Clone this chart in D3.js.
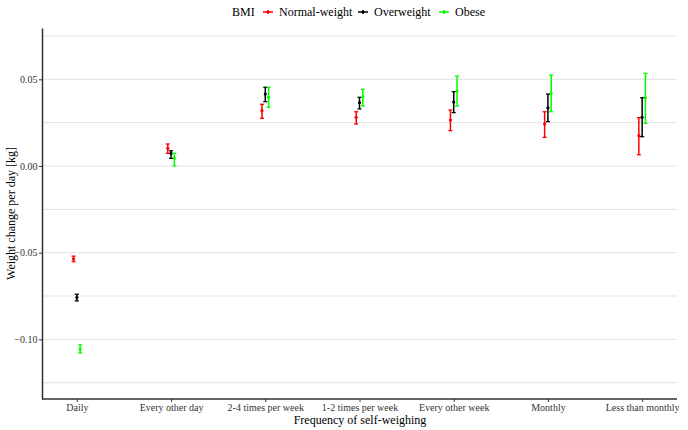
<!DOCTYPE html>
<html>
<head>
<meta charset="utf-8">
<script src="https://cdn.jsdelivr.net/npm/d3@7"></script>
<style>
  body { margin: 0; background: #fff; }
  svg { font-family: "Liberation Serif", "Times New Roman", serif; }
</style>
</head>
<body>
<script>
// Data
const categories = ["Daily", "Every other day", "2-4 times per week", "1-2 times per week",
  "Every other week", "Monthly", "Less than monthly"];
const groups = ["Normal-weight", "Overweight", "Obese"];
const colors = ["#ff0000", "#000000", "#00ff00"];

const normalMid = [-0.0536, 0.0102, 0.0319, 0.0281, 0.0265, 0.0242, 0.0175];
const normalLo  = [-0.0552, 0.0073, 0.0275, 0.0242, 0.0204, 0.0165, 0.0065];
const normalHi  = [-0.0520, 0.0127, 0.0356, 0.0313, 0.0323, 0.0313, 0.0279];

const overMid = [-0.0759, 0.0073, 0.0415, 0.0365, 0.0369, 0.0336, 0.0281];
const overLo  = [-0.0778, 0.0044, 0.0371, 0.0329, 0.0308, 0.0256, 0.0169];
const overHi  = [-0.0740, 0.0088, 0.0454, 0.0396, 0.0429, 0.0415, 0.0394];

const obeseMid = [-0.1055, 0.0044, 0.0396, 0.0400, 0.0433, 0.0419, 0.0394];
const obeseLo  = [-0.1078, 0.0000, 0.0339, 0.0346, 0.0346, 0.0313, 0.0246];
const obeseHi  = [-0.1032, 0.0073, 0.0454, 0.0442, 0.0519, 0.0525, 0.0535];

const yTicks = [0.05, 0.00, -0.05, -0.10];
const yMinor = [0.075, 0.025, -0.025, -0.075, -0.125];

const series = [
  { mid: normalMid, lo: normalLo, hi: normalHi },
  { mid: overMid, lo: overLo, hi: overHi },
  { mid: obeseMid, lo: obeseLo, hi: obeseHi }
];
const rows = [];
series.forEach((s, gi) => {
  categories.forEach((c, ci) => {
    rows.push({ cat: c, g: gi, mid: s.mid[ci], lo: s.lo[ci], hi: s.hi[ci] });
  });
});

const w = 688, h = 430;
const padL = 42, padR = 677, padT = 28, padB = 399;

const svg = d3.select("body").append("svg")
  .attr("width", w).attr("height", h);

const x = d3.scalePoint().domain(categories).range([padL, padR]).padding(0.37);
const y = d3.scaleLinear().domain([-0.1344, 0.0796]).range([padB, padT]);
const dodge = d3.scalePoint().domain(groups.map((d, i) => i)).range([-3.3, 3.3]);

// gridlines
svg.append("g").selectAll("line")
  .data(yMinor.concat(yTicks))
  .join("line")
  .attr("x1", padL).attr("x2", padR)
  .attr("y1", d => y(d)).attr("y2", d => y(d))
  .attr("stroke", "#e3e3e3")
  .attr("stroke-width", 1);

// error bars
const marks = svg.append("g").selectAll("g")
  .data(rows)
  .join("g")
  .attr("transform", d => `translate(${x(d.cat) + dodge(d.g)},0)`)
  .attr("stroke", d => colors[d.g])
  .attr("fill", d => colors[d.g]);

marks.append("line")
  .attr("y1", d => y(d.lo)).attr("y2", d => y(d.hi))
  .attr("stroke-width", 1.5);
marks.append("line")
  .attr("x1", -2).attr("x2", 2)
  .attr("y1", d => y(d.lo)).attr("y2", d => y(d.lo))
  .attr("stroke-width", 1.3);
marks.append("line")
  .attr("x1", -2).attr("x2", 2)
  .attr("y1", d => y(d.hi)).attr("y2", d => y(d.hi))
  .attr("stroke-width", 1.3);
marks.append("circle")
  .attr("cy", d => y(d.mid))
  .attr("r", 1.6)
  .attr("stroke", "none");

// axes
const yAxis = svg.append("g")
  .attr("transform", `translate(${padL},0)`)
  .call(d3.axisLeft(y).tickValues(yTicks).tickFormat(d3.format(".2f")).tickSize(3).tickSizeOuter(0));
yAxis.select("path.domain").attr("stroke", "#333").attr("stroke-width", 1.5);
yAxis.selectAll(".tick line").attr("stroke", "#333");
yAxis.selectAll(".tick text")
  .attr("font-family", "Liberation Serif, serif")
  .attr("font-size", 10).attr("fill", "#333").attr("x", -4.5);

const xAxis = svg.append("g")
  .attr("transform", `translate(0,${padB})`)
  .call(d3.axisBottom(x).tickSize(3).tickSizeOuter(0));
xAxis.select("path.domain").attr("stroke", "#333").attr("stroke-width", 1.5)
  .attr("d", `M${padL},0H${padR}`);
xAxis.selectAll(".tick line").attr("stroke", "#333");
xAxis.selectAll(".tick text")
  .attr("font-family", "Liberation Serif, serif")
  .attr("font-size", 10).attr("fill", "#333").attr("y", 5);

// axis titles
svg.append("text")
  .attr("x", 360).attr("y", 424)
  .attr("text-anchor", "middle")
  .attr("font-size", 12)
  .text("Frequency of self-weighing");
svg.append("text")
  .attr("transform", `translate(15,${(padT + padB) / 2}) rotate(-90)`)
  .attr("text-anchor", "middle")
  .attr("font-size", 12)
  .text("Weight change per day [kg]");

// legend
const legend = svg.append("g").attr("font-size", 12);
legend.append("text").attr("x", 232).attr("y", 16).text("BMI");
const legendX = [268, 363, 444];
groups.forEach((g, i) => {
  const k = legend.append("g").attr("transform", `translate(${legendX[i]},12)`);
  k.append("line").attr("x1", -5).attr("x2", 5)
    .attr("stroke", colors[i]).attr("stroke-width", 1.5);
  k.append("line").attr("y1", -2).attr("y2", 2)
    .attr("stroke", colors[i]).attr("stroke-width", 1.5);
  k.append("circle").attr("r", 1.6).attr("fill", colors[i]);
  legend.append("text").attr("x", legendX[i] + 11).attr("y", 16).text(g);
});
</script>
</body>
</html>
